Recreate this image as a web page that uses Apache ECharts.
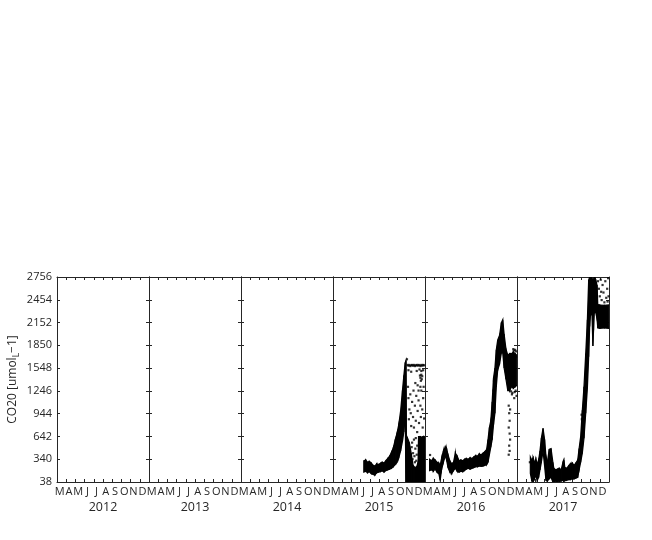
<!DOCTYPE html>
<html><head><meta charset="utf-8">
<script src="https://cdn.jsdelivr.net/npm/echarts@6/dist/echarts.min.js"></script>
<style>html,body{margin:0;padding:0;background:#fff}#c{width:652px;height:540px}</style>
</head><body><div id="c"></div><script>
// ---- data ----
const years = ['2012','2013','2014','2015','2016','2017'];
const monthLabels = ['M','A','M','J','J','A','S','O','N','D'];
const monthTicks = [4,5,6,7,8,9,10,11,12];
const yTicks = [38,340,642,944,1246,1548,1850,2152,2454,2756];

// dense band (month-of-year position, lower and upper envelope)
const t2015 = [6.35,6.55,6.75,6.95,7.15,7.35,7.55,7.75,7.95,8.15,8.35,8.55,8.75,8.95,9.15,9.35,9.55,9.75,9.95,10.15,10.35,10.55,10.7,10.85,10.93,10.98,11.1,11.3,11.5,11.7,11.9,12.1,12.25,12.3,12.5,12.7,12.85,12.99];
const lo2015 = [170,180,160,175,150,140,130,160,170,175,185,170,190,200,210,220,240,270,300,360,450,580,700,900,38,38,38,38,38,38,38,38,38,38,38,38,38,38];
const hi2015 = [320,330,300,310,290,260,250,280,270,285,300,290,320,350,380,430,490,590,680,800,980,1250,1450,1620,1650,640,620,560,420,260,230,240,300,640,640,630,640,630];
const sx2015 = [11.04,11.1,11.2,11.3,11.4,11.5,11.6,11.7,11.8,11.9,12.0,12.1,12.2,12.3,12.4,12.5,12.6,12.7,12.8,12.9,11.2,11.5,12.1,12.4,12.6,12.8,12.45,12.5,12.6,12.65,12.55,12.7,11.15,11.2,11.3,11.25,11.4,11.45,11.5,11.6,11.7,11.75,11.8,11.9,12.0,12.05,12.15,12.2,12.3,12.35,12.5,12.55,12.6,12.7,12.75,12.8,12.9,12.5,12.2,11.95,12.85,12.3,11.55,11.6,11.7,11.8,11.85,11.95,12.0,12.1,12.15,11.65,11.9,12.05];
const sy2015 = [1665,1590,1580,1590,1575,1585,1590,1580,1590,1575,1585,1590,1580,1590,1585,1575,1590,1580,1590,1585,1520,1500,1510,1530,1510,1520,1450,1420,1460,1400,1380,1440,1300,1150,1000,870,1200,950,780,1100,900,1250,760,1050,850,1180,700,980,1120,820,1050,900,1250,1000,760,1150,880,1300,1320,1350,1300,1250,500,560,420,600,380,480,620,400,520,340,300,320];

const t2016 = [3.5,3.7,3.9,4.1,4.3,4.5,4.65,4.8,5.0,5.2,5.35,5.5,5.7,5.9,6.1,6.3,6.5,6.7,6.9,7.1,7.3,7.5,7.7,7.9,8.1,8.3,8.5,8.7,8.9,9.1,9.3,9.5,9.7,9.85,10.0,10.15,10.3,10.45,10.6,10.75,10.9,11.1,11.3,11.45,11.6,11.8,12.0,12.2,12.4,12.6,12.8,12.98];
const lo2016 = [190,200,180,210,170,150,60,200,300,380,330,230,170,150,190,220,180,170,180,175,190,210,220,210,220,230,240,240,250,245,250,260,270,300,400,500,600,800,950,1300,1520,1600,1750,1750,1550,1400,1250,1250,1300,1280,1300,1320];
const hi2016 = [340,320,350,330,300,290,260,350,450,500,480,400,320,280,300,420,380,320,330,320,340,350,340,360,350,370,390,380,410,400,420,440,470,600,760,850,1100,1420,1550,1790,1920,1980,2150,2190,2000,1800,1720,1740,1740,1760,1740,1720];
const sx2016 = [3.55,10.5,10.55,10.6,10.45,12.1,12.15,12.2,12.1,12.2,12.25,12.15,12.2,12.1,12.25,12.6,12.8,12.9,12.7,12.95,12.5,12.85,12.45,12.75,12.65,12.9,12.35];
const sy2016 = [396,1380,1300,1200,1250,1050,950,850,760,680,600,520,450,400,1000,1800,1790,1700,1150,1180,1220,1250,1200,1230,1780,1770,1240];

const t2017 = [4.45,4.6,4.75,4.9,5.05,5.2,5.35,5.5,5.65,5.83,6.0,6.15,6.3,6.5,6.7,6.9,7.0,7.2,7.4,7.6,7.8,8.0,8.1,8.2,8.4,8.6,8.8,9.0,9.2,9.4,9.6,9.75,9.92,10.1,10.28,10.47,10.65,10.79,10.9,11.0,11.15,11.25,11.32,11.4,11.55,11.7,11.78,12.0,12.5,12.99];
const lo2017 = [150,60,40,80,120,60,100,200,300,450,250,60,50,80,100,38,38,50,40,45,50,60,50,55,60,70,70,80,80,90,100,200,300,420,620,950,1280,1700,2100,2280,2250,1840,2050,2280,2290,2200,2080,2076,2080,2076];
const hi2017 = [370,330,360,300,340,280,330,450,620,750,600,380,300,470,480,300,220,200,210,220,200,300,330,230,220,250,280,290,260,290,330,480,640,990,1300,1740,2190,2716,2756,2756,2740,2700,2720,2750,2720,2650,2390,2385,2380,2385];
const sx2017 = [10.02,10.05,11.8,11.9,12.0,12.1,12.2,12.3,12.4,12.5,12.6,12.7,12.8,12.9,12.95,12.85,12.15,4.4];
const sy2017 = [930,870,2700,2600,2500,2720,2450,2650,2550,2420,2700,2480,2600,2740,2500,2430,2560,300];

const bands = {
  '2015': [t2015, lo2015, hi2015, sx2015, sy2015],
  '2016': [t2016, lo2016, hi2016, sx2016, sy2016],
  '2017': [t2017, lo2017, hi2017, sx2017, sy2017]
};

// ---- chart ----
const font = 'Open Sans';
const textColor = '#262626';
const axisColor = '#262626';
const panelLeft = 57, panelW = 92, panelTop = 277, panelH = 205;
const labelPos = monthLabels.map((_, k) => 3.3 + k);

const grids = [], xAxes = [], yAxes = [], series = [];
const lineSty = {show: true, onZero: false, lineStyle: {color: axisColor, width: 1}};

years.forEach((yr, i) => {
  grids.push({left: panelLeft + i * panelW, top: panelTop, width: panelW, height: panelH, containLabel: false});
  xAxes.push({
    gridIndex: i, type: 'value', min: 3, max: 13, position: 'bottom',
    name: yr, nameLocation: 'middle', nameGap: 19,
    nameTextStyle: {fontSize: 12.5, color: textColor, fontFamily: font},
    axisLine: lineSty,
    axisTick: {show: true, inside: true, length: 3, customValues: monthTicks, lineStyle: {color: axisColor}},
    axisLabel: {show: true, customValues: labelPos, margin: 4, fontSize: 11, color: textColor, fontFamily: font,
      formatter: v => monthLabels[Math.round(v - 0.3) - 3] || ''},
    splitLine: {show: false}
  });
  xAxes.push({
    gridIndex: i, type: 'value', min: 3, max: 13, position: 'top',
    axisLine: lineSty,
    axisTick: {show: true, inside: true, length: 3, customValues: monthTicks, lineStyle: {color: axisColor}},
    axisLabel: {show: false}, splitLine: {show: false}
  });
  yAxes.push({
    gridIndex: i, type: 'value', min: 38, max: 2756, position: 'left',
    name: i === 0 ? '{m|CO20 [umol}{s|L}{m|\u22121]}' : '',
    nameLocation: 'middle', nameGap: 36,
    nameTextStyle: {color: textColor, fontFamily: font,
      rich: {m: {fontSize: 12, lineHeight: 16, verticalAlign: 'middle', color: textColor, fontFamily: font},
             s: {fontSize: 8.5, lineHeight: 8, verticalAlign: 'bottom', color: textColor, fontFamily: font}}},
    axisLine: lineSty,
    axisTick: {show: true, inside: true, length: 3, customValues: yTicks, lineStyle: {color: axisColor}},
    axisLabel: {show: i === 0, customValues: yTicks, margin: 5, fontSize: 11, color: textColor, fontFamily: font,
      formatter: v => String(v)},
    splitLine: {show: false}
  });
  yAxes.push({
    gridIndex: i, type: 'value', min: 38, max: 2756, position: 'right',
    axisLine: lineSty,
    axisTick: {show: true, inside: true, length: 3, customValues: yTicks, lineStyle: {color: axisColor}},
    axisLabel: {show: false}, splitLine: {show: false}
  });

  const b = bands[yr];
  if (b) {
    const [t, lo, hi, sx, sy] = b;
    const segs = [];
    for (let k = 0; k < t.length - 1; k++) segs.push([t[k], lo[k], hi[k], t[k + 1], lo[k + 1], hi[k + 1]]);
    series.push({
      type: 'custom', xAxisIndex: 2 * i, yAxisIndex: 2 * i, clip: true, silent: true,
      encode: {x: [0, 3], y: [1, 2, 4, 5]},
      data: segs,
      renderItem: (params, api) => {
        const a = api.coord([api.value(0), api.value(2)]);
        const c = api.coord([api.value(3), api.value(5)]);
        const d = api.coord([api.value(3), api.value(4)]);
        const e = api.coord([api.value(0), api.value(1)]);
        return {type: 'polygon', shape: {points: [a, c, d, e]},
          style: {fill: '#000', stroke: '#000', lineWidth: 1.2}};
      }
    });
    series.push({
      type: 'scatter', xAxisIndex: 2 * i, yAxisIndex: 2 * i, symbol: 'rect', symbolSize: 2.2,
      itemStyle: {color: '#000'}, silent: true,
      data: sx.map((x, k) => [x, sy[k]])
    });
  }
});

const chart = echarts.init(document.getElementById('c'), null, {renderer: 'canvas'});
chart.setOption({animation: false, backgroundColor: '#fff', grid: grids, xAxis: xAxes, yAxis: yAxes, series: series});
</script></body></html>
